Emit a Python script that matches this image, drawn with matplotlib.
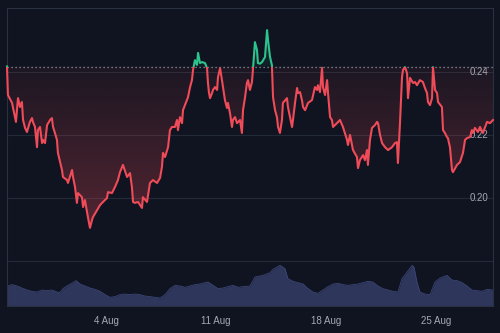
import numpy as np
import matplotlib
matplotlib.use('Agg')
import matplotlib.pyplot as plt
import matplotlib.dates as mdates
from matplotlib.colors import to_rgb
from matplotlib.patches import Rectangle, PathPatch
from datetime import datetime

plt.rcParams['font.family'] = ['Liberation Sans', 'DejaVu Sans']

# days since 28 Jul (fractional) and price
price_days = [
    0.70, 0.76, 1.02, 1.21, 1.27, 1.40, 1.53, 1.65, 1.72, 1.85, 1.97, 2.16, 2.29, 2.35,
    2.48, 2.61, 2.67, 2.80, 2.93, 2.99, 3.12, 3.25, 3.44, 3.56, 3.63, 3.75, 3.88, 3.94,
    4.20, 4.26, 4.52, 4.58, 4.84, 4.90, 5.03, 5.15, 5.22, 5.47, 5.54, 5.66, 5.85, 5.98,
    6.11, 6.17, 6.43, 6.62, 6.81, 7.06, 7.13, 7.38, 7.57, 7.76, 7.89, 8.08,
    8.34, 8.53, 8.65, 8.72, 8.84, 9.04, 9.29, 9.35, 9.61, 9.80, 9.99, 10.25, 10.44, 10.56,
    10.63, 10.76, 10.95, 11.07, 11.20, 11.39, 11.52, 11.58, 11.71, 11.84, 11.90, 12.15,
    12.22, 12.35, 12.47, 12.54, 12.66, 12.79, 12.86, 12.98, 13.11, 13.30, 13.43, 13.49,
    13.55, 13.62, 13.75, 13.81, 13.94, 14.07, 14.13, 14.26, 14.38, 14.57, 14.70, 14.76,
    14.89, 15.02, 15.08, 15.21, 15.34, 15.53, 15.65, 15.72, 15.85,
    15.97, 16.04, 16.16, 16.29, 16.35, 16.48, 16.61, 16.67, 16.80, 16.93, 17.12, 17.25,
    17.31, 17.44, 17.56, 17.63, 17.76, 17.88, 17.95, 18.07, 18.20, 18.26, 18.52, 18.58,
    18.71, 18.84, 18.90, 19.03, 19.16, 19.22, 19.35, 19.47, 19.54, 19.67, 19.86, 20.11,
    20.30, 20.43, 20.49, 20.62, 20.75, 20.81, 20.94, 21.07, 21.13, 21.26, 21.38, 21.45,
    21.70, 21.89, 22.08, 22.34, 22.40, 22.53, 22.72, 22.97, 23.04, 23.16, 23.36, 23.48,
    23.61, 23.67,
    23.80, 23.93, 24.12, 24.25, 24.31, 24.44, 24.57, 24.76, 24.95, 25.20, 25.39, 25.52,
    25.58, 25.71, 25.84, 25.90, 26.03, 26.16, 26.22, 26.35, 26.54, 26.67, 26.79, 26.98,
    27.17, 27.30, 27.43, 27.49, 27.62, 27.75, 27.81, 27.94, 28.07, 28.13, 28.38, 28.45,
    28.57, 28.70, 28.76, 28.89, 29.02, 29.08, 29.34, 29.53, 29.72, 29.85, 29.98, 30.17,
    30.29, 30.36, 30.48, 30.67, 30.80, 30.99, 31.25, 31.44, 31.63,
]
prices = [
    0.2416, 0.2326, 0.2301, 0.2256, 0.2241, 0.2316, 0.2288, 0.2304, 0.2247, 0.2222, 0.2209, 0.2241, 0.2253, 0.2241,
    0.2225, 0.2161, 0.2215, 0.2225, 0.2174, 0.2184, 0.2174, 0.2231, 0.2247, 0.2253, 0.2225, 0.2206, 0.2184, 0.2143,
    0.2089, 0.2067, 0.2057, 0.2048, 0.2089, 0.2067, 0.2035, 0.1985, 0.2016, 0.2003, 0.1972, 0.1994, 0.1940, 0.1906,
    0.1931, 0.1940, 0.1962, 0.1978, 0.1988, 0.2000, 0.2019, 0.2016, 0.2035, 0.2057, 0.2082, 0.2105,
    0.2067, 0.2079, 0.2035, 0.1988, 0.1985, 0.1988, 0.1969, 0.2003, 0.1988, 0.2048, 0.2057, 0.2048, 0.2064, 0.2098,
    0.2143, 0.2130, 0.2161, 0.2215, 0.2225, 0.2225, 0.2247, 0.2215, 0.2256, 0.2237, 0.2278, 0.2310,
    0.2319, 0.2351, 0.2373, 0.2405, 0.2436, 0.2421, 0.2459, 0.2427, 0.2430, 0.2427, 0.2411, 0.2364,
    0.2335, 0.2316, 0.2332, 0.2342, 0.2351, 0.2342, 0.2383, 0.2411, 0.2373, 0.2310, 0.2285, 0.2301,
    0.2269, 0.2225, 0.2247, 0.2256, 0.2237, 0.2247, 0.2206, 0.2278, 0.2319,
    0.2364, 0.2373, 0.2342, 0.2367, 0.2405, 0.2493, 0.2468, 0.2427, 0.2425, 0.2430, 0.2446, 0.2531,
    0.2500, 0.2446, 0.2420, 0.2319, 0.2278, 0.2256, 0.2225, 0.2206, 0.2247, 0.2301, 0.2316, 0.2288,
    0.2256, 0.2225, 0.2247, 0.2301, 0.2348, 0.2332, 0.2335, 0.2310, 0.2288, 0.2278, 0.2301, 0.2310,
    0.2351, 0.2342, 0.2357, 0.2335, 0.2412, 0.2351, 0.2326, 0.2373, 0.2332, 0.2256, 0.2247, 0.2225,
    0.2237, 0.2247, 0.2225, 0.2184, 0.2168, 0.2200, 0.2152, 0.2130, 0.2095, 0.2120, 0.2136, 0.2120,
    0.2152, 0.2105,
    0.2184, 0.2222, 0.2231, 0.2241, 0.2237, 0.2200, 0.2174, 0.2161, 0.2152, 0.2161, 0.2174, 0.2177,
    0.2111, 0.2237, 0.2383, 0.2405, 0.2414, 0.2395, 0.2316, 0.2380, 0.2364, 0.2367, 0.2357, 0.2373,
    0.2367, 0.2348, 0.2332, 0.2304, 0.2294, 0.2316, 0.2414, 0.2342, 0.2332, 0.2304, 0.2288, 0.2215,
    0.2206, 0.2193, 0.2190, 0.2161, 0.2089, 0.2082, 0.2105, 0.2114, 0.2143, 0.2184, 0.2190, 0.2193,
    0.2215, 0.2206, 0.2222, 0.2209, 0.2225, 0.2206, 0.2241, 0.2237, 0.2247,
]

vol_days = [
    0.70, 1.02, 1.34, 1.65, 1.97, 2.29, 2.61, 2.93, 3.25, 3.56, 3.88, 4.07, 4.26, 4.58, 4.90,
    5.09, 5.35, 5.66, 5.98, 6.30, 6.62, 6.94, 7.25, 7.57, 7.89, 8.21, 8.53, 8.84, 9.16, 9.48,
    9.80, 10.12, 10.44, 10.76, 11.07, 11.39, 11.71, 12.03, 12.35, 12.66, 12.98, 13.30, 13.49,
    13.81, 14.13, 14.45, 14.76, 15.08, 15.40, 15.72, 16.16,
    16.48, 16.80, 17.12, 17.44, 17.63, 18.07, 18.39, 18.58, 18.90, 19.22, 19.54, 19.86, 20.17,
    20.49, 20.81, 21.13, 21.45, 21.77, 22.08, 22.40, 22.72, 23.04, 23.36, 23.67, 23.99, 24.31,
    24.63, 24.95, 25.26, 25.58, 25.84, 26.16, 26.48, 26.60, 26.79, 26.98, 27.30, 27.62, 27.94,
    28.26, 28.70, 29.02, 29.34, 29.66, 29.98, 30.29, 30.61, 30.93, 31.25, 31.63,
]
volume_m = [
    20.0, 21.4, 20.0, 18.0, 16.0, 14.7, 14.0, 16.0, 15.4, 16.0, 14.0, 13.4, 17.4, 20.7, 23.4,
    25.4, 22.0, 20.0, 18.0, 16.7, 14.7, 11.4, 8.7, 9.4, 11.4, 12.0, 11.4, 12.0, 11.4, 10.0,
    9.4, 8.7, 8.0, 11.4, 17.4, 20.7, 20.0, 18.7, 20.0, 21.4, 22.0, 23.4, 24.0,
    20.7, 17.4, 18.0, 19.4, 20.7, 18.7, 19.4, 20.0,
    29.0, 30.0, 31.4, 33.4, 36.7, 40.7, 37.4, 27.4, 24.7, 23.4, 22.0, 17.4, 14.0,
    12.7, 16.0, 19.4, 22.0, 22.7, 21.4, 20.7, 21.4, 22.0, 23.4, 24.7, 24.0, 20.0,
    17.4, 16.0, 14.7, 14.0, 27.4, 34.0, 40.7, 39.0, 24.0, 14.0, 12.0, 11.4, 24.0,
    28.0, 30.7, 26.0, 25.4, 23.4, 20.0, 16.0, 15.4, 14.7, 16.7, 16.0,
]

tick_dates = [datetime(2024, 8, 4), datetime(2024, 8, 11), datetime(2024, 8, 18), datetime(2024, 8, 25)]
tick_labels = ['4 Aug', '11 Aug', '18 Aug', '25 Aug']
grid_levels = [0.18, 0.20, 0.22, 0.24]
price_labels = [0.20, 0.22, 0.24]

assert len(price_days) == len(prices)
assert len(vol_days) == len(volume_m)

BG = '#0f1420'
RED = '#ef4b58'
GREEN = '#2cc38c'
TXT = '#a3a8b2'

start = mdates.date2num(datetime(2024, 7, 28))
t = start + np.array(price_days)
p = np.array(prices)
base = prices[0]
vt = start + np.array(vol_days)
v = np.array(volume_m)
ymin, ymax = 0.1659, 0.2601

fig = plt.figure(figsize=(5, 3.33), dpi=100, facecolor=BG)
ax = fig.add_axes([0.014, 0.081, 0.972, 0.895])
vax = ax.twinx()
ax.set_zorder(vax.get_zorder() + 1)
ax.patch.set_visible(False)

# volume strip at the bottom
vax.fill_between(vt, v, 0, color='#2f365b', lw=0)
vax.plot(vt, v, color='#3c4676', lw=0.6)
vax.set_ylim(0, 298)
vax.axis('off')

# baseline gradient fills
area = ax.fill_between(t, p, base, facecolor='none', edgecolor='none')
clip = PathPatch(area.get_paths()[0], transform=ax.transData, facecolor='none', edgecolor='none')
ax.add_patch(clip)


def grad(col, a_lo, a_hi, y0, y1):
    g = np.zeros((256, 1, 4))
    g[..., :3] = to_rgb(col)
    g[:, 0, 3] = np.linspace(a_lo, a_hi, 256)
    im = ax.imshow(g, aspect='auto', origin='lower', extent=[t[0], t[-1], y0, y1],
                   zorder=1, interpolation='bilinear')
    im.set_clip_path(clip)


grad(RED, 0.42, 0.06, ymin, base)
grad(GREEN, 0.06, 0.3, base, ymax)

# price line, green above base / red below
lo = Rectangle((t[0] - 5, 0), 50, base, transform=ax.transData)
hi = Rectangle((t[0] - 5, base), 50, 1, transform=ax.transData)
l1, = ax.plot(t, p, color=RED, lw=1.5, zorder=4)
l1.set_clip_path(lo)
l2, = ax.plot(t, p, color=GREEN, lw=1.5, zorder=4)
l2.set_clip_path(hi)

ax.axhline(base, color='#8d93a0', lw=0.9, ls=(0, (1, 2.2)), zorder=3)

ax.set_xlim(t[0], t[-1])
ax.set_ylim(ymin, ymax)
ax.set_yticks(grid_levels)
ax.yaxis.grid(True, color='#232a37', lw=0.8)
ax.set_axisbelow(True)
ax.tick_params(axis='y', left=False, labelleft=False)

for val in price_labels:
    ax.text(0.99, val, f'{val:.2f}', transform=ax.get_yaxis_transform(), ha='right',
            va='center', fontsize=7, color=TXT, zorder=2)

ax.set_xticks(mdates.date2num(tick_dates))
ax.set_xticklabels(tick_labels)
ax.tick_params(axis='x', length=0, pad=7, labelsize=7, labelcolor=TXT)

for s in ax.spines.values():
    s.set_color('#2a3241')
    s.set_linewidth(0.8)

fig.savefig('out.png', dpi=100, facecolor=BG)
